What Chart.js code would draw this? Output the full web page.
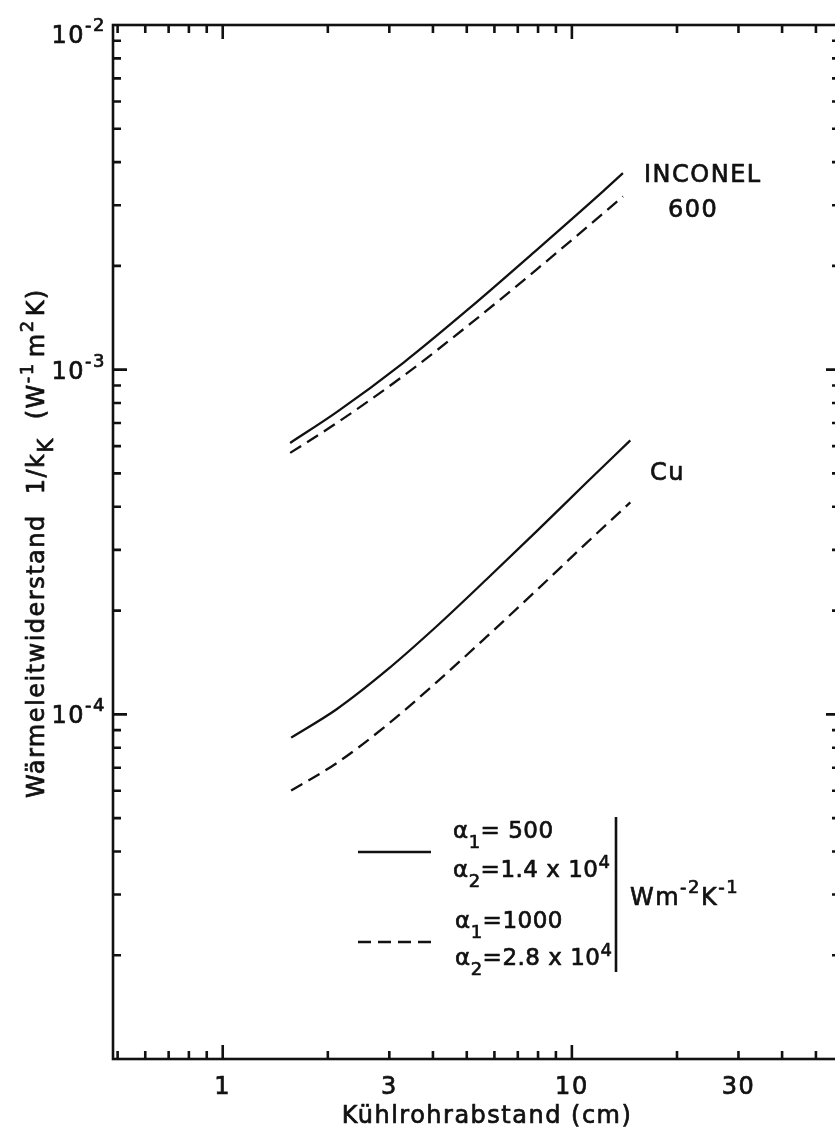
<!DOCTYPE html>
<html><head><meta charset="utf-8">
<script src="https://cdn.jsdelivr.net/npm/chart.js@4/dist/chart.umd.min.js"></script>
<style>html,body{margin:0;padding:0;overflow:hidden;background:#fff}canvas{display:block}</style>
</head><body>
<canvas id="c" width="845" height="1130" style="width:845px;height:1130px"></canvas>
<script>
// ---- data ----
const xInconel = [1.56, 2.12, 3.29, 5.10, 7.92, 12.3, 14.0];
const inconelSolid = [6.13e-4, 7.53e-4, 1.047e-3, 1.51e-3, 2.223e-3, 3.296e-3, 3.715e-3];
const inconelDashed = [5.735e-4, 7.0e-4, 9.59e-4, 1.355e-3, 1.952e-3, 2.842e-3, 3.18e-3];
const xCu = [1.57, 2.12, 2.95, 4.10, 5.69, 7.92, 11.0, 14.7];
const cuSolid = [8.56e-5, 1.035e-4, 1.343e-4, 1.801e-4, 2.461e-4, 3.394e-4, 4.697e-4, 6.233e-4];
const cuDashed = [6.01e-5, 7.22e-5, 9.30e-5, 1.24e-4, 1.677e-4, 2.29e-4, 3.137e-4, 4.122e-4];
const xTickLabels = [1, 3, 10, 30];
const yTickExponents = [-2, -3, -4];
const xMin = 0.485, xMax = 58.6, yMin = 1e-5, yMax = 1e-2;

const FONT = '"DejaVu Sans", sans-serif';
const INK = '#111';
const STROKE = 0.7;

function pts(xs, ys) { return xs.map((x, i) => ({x: x, y: ys[i]})); }

function segW(ctx, segs, base) {
  let w = 0;
  for (const s of segs) {
    if (s.gap) { w += s.gap; continue; }
    ctx.font = (s.size || base) + 'px ' + FONT; w += ctx.measureText(s.t).width;
  }
  return w;
}
function txt(ctx, t, x, y) { ctx.fillText(t, x, y); ctx.strokeText(t, x, y); }
function drawRich(ctx, segs, x, y, base) {
  let cx = x;
  for (const s of segs) {
    if (s.gap) { cx += s.gap; continue; }
    ctx.font = (s.size || base) + 'px ' + FONT;
    txt(ctx, s.t, cx, y + (s.dy || 0));
    cx += ctx.measureText(s.t).width;
  }
  return cx;
}

const framePlugin = {
  id: 'frame',
  beforeDraw(chart) {
    const c = chart.ctx;
    c.save(); c.fillStyle = '#fff'; c.fillRect(0, 0, chart.width, chart.height); c.restore();
    c.letterSpacing = '1.5px';
  },
  afterDraw(chart) {
    const ctx = chart.ctx, a = chart.chartArea, xs = chart.scales.x, ys = chart.scales.y;
    ctx.save();
    ctx.strokeStyle = INK; ctx.fillStyle = INK; ctx.setLineDash([]);
    // frame
    ctx.lineWidth = 2.6;
    ctx.strokeRect(a.left, a.top, a.right - a.left, a.bottom - a.top);
    // inward ticks
    ctx.beginPath();
    for (let e = -1; e <= 1; e++) for (let m = 1; m <= 9; m++) {
      const v = m * Math.pow(10, e);
      if (v <= xMin || v >= xMax) continue;
      const px = xs.getPixelForValue(v), L = m === 1 ? 14 : 8;
      ctx.moveTo(px, a.bottom); ctx.lineTo(px, a.bottom - L);
      ctx.moveTo(px, a.top); ctx.lineTo(px, a.top + L);
    }
    for (let e = -5; e <= -3; e++) for (let m = 1; m <= 9; m++) {
      const v = m * Math.pow(10, e);
      if (v <= yMin * 1.0001 || v >= yMax * 0.9999) continue;
      const py = ys.getPixelForValue(v), L = m === 1 ? 14 : 8;
      ctx.moveTo(a.left, py); ctx.lineTo(a.left + L, py);
      ctx.moveTo(a.right, py); ctx.lineTo(a.right - L, py);
    }
    ctx.stroke();

    ctx.lineWidth = STROKE; ctx.lineJoin = 'round';
    ctx.letterSpacing = '1.5px';
    ctx.textBaseline = 'alphabetic'; ctx.textAlign = 'left';
    // y tick labels
    for (const ex of yTickExponents) {
      const py = ys.getPixelForValue(Math.pow(10, ex));
      const segs = [{t: '10'}, {t: '-' + Math.abs(ex), size: 18, dy: -12}];
      const w = segW(ctx, segs, 24);
      drawRich(ctx, segs, 106 - w, py + (ex === -2 ? 18 : 9), 24);
    }
    // x axis title
    ctx.font = '24px ' + FONT;
    const xt = 'Kühlrohrabstand (cm)';
    txt(ctx, xt, 487 - ctx.measureText(xt).width / 2, 1123);
    // y axis title (reads bottom to top)
    ctx.save();
    ctx.translate(44, 798); ctx.rotate(-Math.PI / 2);
    const ts = [{t: 'Wärmeleitwiderstand'}, {gap: 20}, {t: '1/k'}, {t: 'K', size: 21, dy: 9}, {gap: 18},
                {t: '(W'}, {t: '-1', size: 18, dy: -11}, {gap: 5}, {t: 'm'}, {t: '2', size: 18, dy: -11}, {gap: 3}, {t: 'K)'}];
    drawRich(ctx, ts, 0, 0, 24);
    ctx.restore();

    // curve annotations
    ctx.font = '24px ' + FONT;
    txt(ctx, 'INCONEL', 644, 182);
    txt(ctx, '600', 668, 217);
    txt(ctx, 'Cu', 650, 480);

    // legend
    ctx.lineWidth = 2.3;
    ctx.beginPath(); ctx.moveTo(358, 852); ctx.lineTo(431, 852); ctx.stroke();
    ctx.setLineDash([13, 7]);
    ctx.beginPath(); ctx.moveTo(358, 942); ctx.lineTo(431, 942); ctx.stroke();
    ctx.setLineDash([]);
    ctx.lineWidth = 2.6;
    ctx.beginPath(); ctx.moveTo(616, 817); ctx.lineTo(616, 972); ctx.stroke();
    ctx.lineWidth = STROKE;
    ctx.letterSpacing = '0.5px';
    drawRich(ctx, [{t: 'α'}, {t: '1', size: 18, dy: 10}, {t: '= 500'}], 453, 838, 23);
    drawRich(ctx, [{t: 'α'}, {t: '2', size: 18, dy: 10}, {t: '=1.4 x 10'}, {t: '4', size: 18, dy: -9}], 453, 877, 23);
    drawRich(ctx, [{t: 'α'}, {t: '1', size: 18, dy: 10}, {t: '=1000'}], 455, 928, 23);
    drawRich(ctx, [{t: 'α'}, {t: '2', size: 18, dy: 10}, {t: '=2.8 x 10'}, {t: '4', size: 18, dy: -9}], 455, 965, 23);
    ctx.letterSpacing = '1.5px';
    drawRich(ctx, [{t: 'Wm'}, {t: '-2', size: 18, dy: -12}, {t: 'K'}, {t: '-1', size: 18, dy: -12}], 630, 905, 24);
    ctx.restore();
  }
};

const solid = {borderColor: INK, borderWidth: 2.3, pointRadius: 0, fill: false, cubicInterpolationMode: 'monotone'};
const dashed = Object.assign({}, solid, {borderDash: [13, 7]});

new Chart(document.getElementById('c').getContext('2d'), {
  type: 'line',
  data: {
    datasets: [
      Object.assign({label: 'INCONEL 600, α1=500', data: pts(xInconel, inconelSolid)}, solid),
      Object.assign({label: 'INCONEL 600, α1=1000', data: pts(xInconel, inconelDashed)}, dashed),
      Object.assign({label: 'Cu, α1=500', data: pts(xCu, cuSolid)}, solid),
      Object.assign({label: 'Cu, α1=1000', data: pts(xCu, cuDashed)}, dashed)
    ]
  },
  options: {
    responsive: false, animation: false, devicePixelRatio: 1,
    layout: {padding: {top: 25, right: 5, left: 0, bottom: 0}},
    plugins: {legend: {display: false}, tooltip: {enabled: false}},
    scales: {
      x: {
        type: 'logarithmic', min: xMin, max: xMax,
        grid: {display: false, drawTicks: false}, border: {display: false},
        afterBuildTicks: s => { s.ticks = xTickLabels.map(v => ({value: v})); },
        afterFit: s => { s.height = 71; },
        ticks: {autoSkip: false, maxRotation: 0, padding: 14, color: INK, font: {family: FONT, size: 24},
                textStrokeColor: INK, textStrokeWidth: STROKE, callback: v => String(v)},
        title: {display: false}
      },
      y: {
        type: 'logarithmic', min: yMin, max: yMax,
        grid: {display: false, drawTicks: false}, border: {display: false},
        ticks: {display: false},
        afterFit: s => { s.width = 113; }
      }
    }
  },
  plugins: [framePlugin]
});
</script>
</body></html>
